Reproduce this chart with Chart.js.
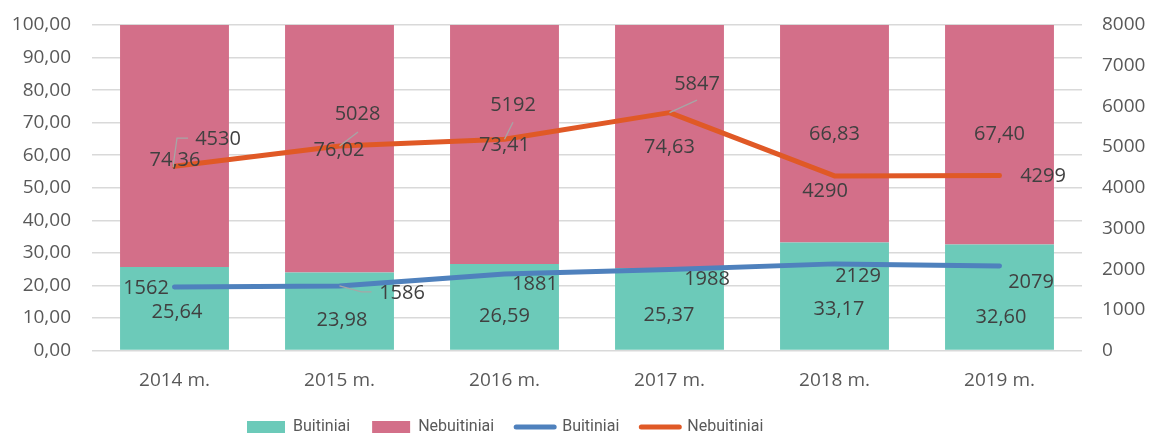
<!DOCTYPE html>
<html>
<head>
<meta charset="utf-8">
<script src="https://cdn.jsdelivr.net/npm/chart.js@4"></script>
<style>
  html, body { margin: 0; padding: 0; background: #fff; }
  #wrap { width: 1152px; height: 437px; }
</style>
</head>
<body>
<div id="wrap"><canvas id="chart" width="1152" height="437"></canvas></div>
<script>
// data
var years = ['2014 m.', '2015 m.', '2016 m.', '2017 m.', '2018 m.', '2019 m.'];
var buitPct = [25.64, 23.98, 26.59, 25.37, 33.17, 32.60];
var nebuitPct = [74.36, 76.02, 73.41, 74.63, 66.83, 67.40];
var buitCount = [1562, 1586, 1881, 1988, 2129, 2079];
var nebuitCount = [4530, 5028, 5192, 5847, 4290, 4299];
var seriesNames = ['Buitiniai', 'Nebuitiniai'];

var TEAL = 'rgb(108,202,185)';
var PINK = 'rgb(211,111,137)';
var BLUE = 'rgb(79,129,189)';
var ORANGE = 'rgb(224,89,38)';

Chart.defaults.font.family = "'Open Sans', sans-serif";
Chart.defaults.color = '#595959';

/**
* Skaiciu uzrasai ant stulpeliu ir liniju (kaip Excel data labels).
* shift = poslinkis nuo stulpelio vidurio / tasko, leaders = pilkos linijos.
**/
var valueLabels = {
  id: 'valueLabels',
  afterDatasetsDraw(chart, args, opts) {
    var ctx = chart.ctx;
    ctx.save();
    chart.data.datasets.forEach((ds, di) => {
      var meta = chart.getDatasetMeta(di);
      var shift = opts.shift[ds.key] || [];
      var leaders = opts.leaders[ds.key] || [];
      meta.data.forEach((el, i) => {
        var x = el.x;
        var y = ds.type === 'bar' ? (el.y + el.base) / 2 : el.y;
        var path = leaders[i];
        if (path) {
          ctx.strokeStyle = '#A6A6A6';
          ctx.lineWidth = 1.3;
          ctx.beginPath();
          path.forEach((p, k) => {
            if (k === 0) ctx.moveTo(x + p[0], y + p[1]);
            else ctx.lineTo(x + p[0], y + p[1]);
          });
          ctx.stroke();
        }
        var d = shift[i] || [0, 0];
        var v = ds.data[i];
        var txt = ds.type === 'bar' ? v.toFixed(2).replace('.', ',') : String(v);
        ctx.font = opts.font;
        ctx.fillStyle = opts.color;
        ctx.textAlign = 'center';
        ctx.textBaseline = 'middle';
        ctx.fillText(txt, x + d[0], y + d[1]);
      });
    });
    ctx.restore();
  }
};

// legenda pastumiama kaip originale
var legendPlace = {
  id: 'legendPlace',
  afterLayout(chart) {
    var lg = chart.legend;
    var h = lg.bottom - lg.top;
    lg.left = 225;
    lg.top = 397;
    lg.bottom = 397 + h;
  }
};

// asies plotis fiksuotas, be papildomo tarpo virsuje/apacioje
function fixAxis(width) {
  return function(scale) {
    scale.width = width;
    scale.paddingTop = 0;
    scale.paddingBottom = 0;
  };
}

new Chart(document.getElementById('chart'), {
  data: {
    labels: years,
    datasets: [{
      type: 'bar', key: 'buitPct', label: seriesNames[0], data: buitPct,
      backgroundColor: TEAL, yAxisID: 'y', order: 2, pointStyle: 'rect',
      barPercentage: 0.66, categoryPercentage: 1
    }, {
      type: 'bar', key: 'nebuitPct', label: seriesNames[1], data: nebuitPct,
      backgroundColor: PINK, yAxisID: 'y', order: 2, pointStyle: 'rect',
      barPercentage: 0.66, categoryPercentage: 1
    }, {
      type: 'line', key: 'buitCount', label: seriesNames[0], data: buitCount,
      borderColor: BLUE, backgroundColor: BLUE, borderWidth: 5, tension: 0,
      borderCapStyle: 'round', borderJoinStyle: 'round',
      pointRadius: 0, pointHoverRadius: 0, pointStyle: 'line',
      yAxisID: 'y1', order: 1, stack: 'l1'
    }, {
      type: 'line', key: 'nebuitCount', label: seriesNames[1], data: nebuitCount,
      borderColor: ORANGE, backgroundColor: ORANGE, borderWidth: 5, tension: 0,
      borderCapStyle: 'round', borderJoinStyle: 'round',
      pointRadius: 0, pointHoverRadius: 0, pointStyle: 'line',
      yAxisID: 'y1', order: 1, stack: 'l2'
    }]
  },
  options: {
    responsive: false,
    animation: false,
    layout: { autoPadding: false, padding: { top: 25, left: 0, right: 0, bottom: 0 } },
    scales: {
      x: {
        stacked: true,
        grid: { display: false, drawTicks: false },
        border: { display: false },
        ticks: { font: { size: 19 }, padding: 19, color: '#595959' },
        afterFit(scale) { scale.height = 38.5; }
      },
      y: {
        stacked: true, position: 'left', min: 0, max: 100,
        grid: { color: '#D9D9D9', lineWidth: 1.5, drawTicks: false },
        border: { display: false },
        ticks: {
          stepSize: 10, padding: 21, font: { size: 19 }, color: '#595959',
          callback: (v) => v.toFixed(2).replace('.', ',')
        },
        afterFit: fixAxis(92)
      },
      y1: {
        stacked: false, position: 'right', min: 0, max: 8000,
        grid: { display: false, drawTicks: false },
        border: { display: false },
        ticks: {
          stepSize: 1000, padding: 20, font: { size: 19 }, color: '#595959',
          callback: (v) => String(v)
        },
        afterFit: fixAxis(70)
      }
    },
    plugins: {
      tooltip: { enabled: false },
      legend: {
        position: 'bottom',
        align: 'start',
        labels: {
          usePointStyle: true,
          pointStyleWidth: 38,
          boxHeight: 12,
          padding: 22,
          color: '#595959',
          font: { size: 16, family: 'Roboto' },
          generateLabels(chart) {
            var items = Chart.defaults.plugins.legend.labels.generateLabels(chart);
            items.forEach((it) => {
              var ds = chart.data.datasets[it.datasetIndex];
              if (ds.type === 'line') {
                it.lineWidth = 5;
                it.lineCap = 'round';
                it.strokeStyle = ds.borderColor;
                it.fillStyle = ds.borderColor;
              } else {
                it.lineWidth = 0;
              }
            });
            return items.sort((a, b) => a.datasetIndex - b.datasetIndex);
          }
        }
      },
      valueLabels: {
        font: "20px 'Open Sans', sans-serif",
        color: '#404040',
        shift: {
          buitPct: [[2.5, 3.7], [2.5, 9.5], [0, 9], [-0.5, 6], [4.5, 13], [1.5, 20.6]],
          nebuitPct: [[0.5, 14], [-0.5, 1.3], [0, 1], [0, 1], [0, 1], [0, 0]],
          buitCount: [[-28.5, 1], [62.5, 7], [30.5, 10.5], [37.5, 10], [23.5, 12], [31.5, 16]],
          nebuitCount: [[43.5, -26.7], [18, -31.4], [8.5, -34.3], [27.5, -28.6], [-9.5, 15], [43.5, 0.5]]
        },
        leaders: {
          buitCount: [null, [[0, 0], [22, 6], [32, 6]]],
          nebuitCount: [
            [[-1.5, 1], [2.5, -28], [13.5, -28]],
            [[0, 0], [18.5, -14]],
            [[0, 0], [8.5, -17]],
            [[0, 0], [27.5, -12.5]]
          ]
        }
      }
    }
  },
  plugins: [valueLabels, legendPlace]
});
</script>
</body>
</html>
